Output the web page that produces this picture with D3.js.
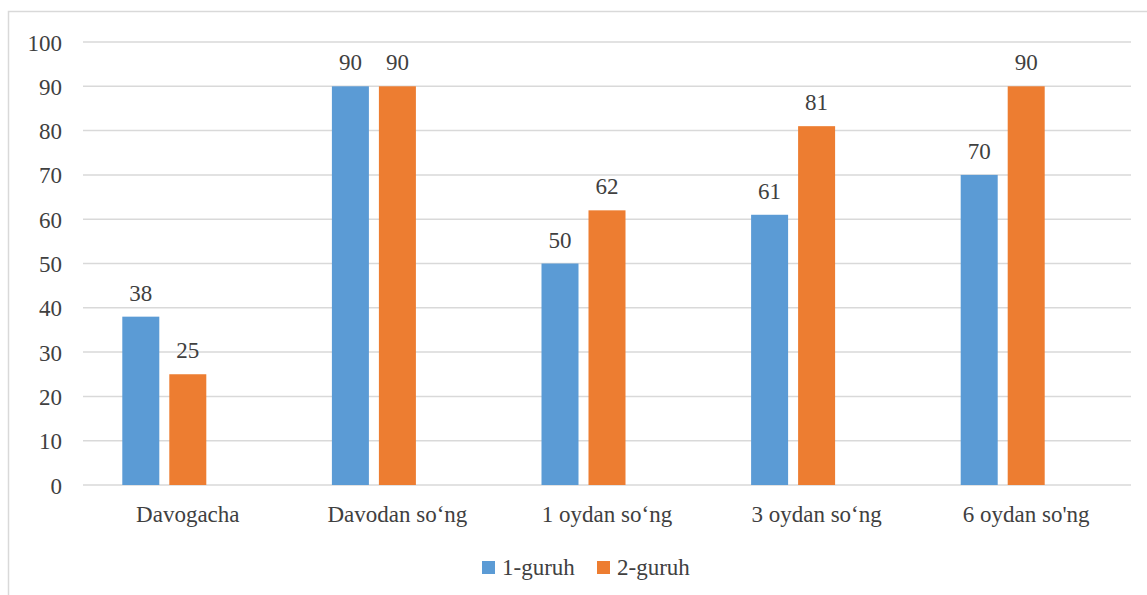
<!DOCTYPE html>
<html><head><meta charset="utf-8">
<script src="https://cdn.jsdelivr.net/npm/d3@7"></script>
</head>
<body style="margin:0">
<svg id="s" width="1147" height="595"></svg>
<script>
const categories = ["Davogacha", "Davodan so\u2018ng", "1 oydan so\u2018ng", "3 oydan so\u2018ng", "6 oydan so'ng"];
const series1 = [38, 90, 50, 61, 70];
const series2 = [25, 90, 62, 81, 90];
const seriesNames = ["1-guruh", "2-guruh"];
const yTicks = [0, 10, 20, 30, 40, 50, 60, 70, 80, 90, 100];
const colors = ["#5B9BD5", "#ED7D31"];

const svg = d3.select("#s");
const pL = 83, pR = 1131, pT = 42, pB = 485;
function styleText(sel) {
  sel.style("font-family", '"Liberation Serif", "Times New Roman", serif').style("font-size", "23px").attr("fill", "#404040");
}

svg.append("rect").attr("x", 8.5).attr("y", 11.5).attr("width", 1150).attr("height", 600)
  .attr("fill", "none").attr("stroke", "#d9d9d9").attr("stroke-width", 1.5);

const yScale = d3.scaleLinear().domain([0, 100]).range([pB, pT]);
const xScale = d3.scaleBand().domain(categories).range([pL, pR]).paddingInner(0).paddingOuter(0);
const slotW = 37, gap = 10;

svg.append("g").selectAll("line").data(yTicks).join("line")
  .attr("x1", pL).attr("x2", pR)
  .attr("y1", d => yScale(d)).attr("y2", d => yScale(d))
  .attr("stroke", "#d9d9d9").attr("stroke-width", 1.5);

const gy = svg.append("g").attr("transform", "translate(62,0)")
  .call(d3.axisLeft(yScale).tickValues(yTicks).tickSize(0).tickPadding(0));
gy.select(".domain").remove();
gy.attr("font-family", null).attr("font-size", null);
gy.selectAll("text").call(styleText);
gy.selectAll("text").attr("dy", "0.35em");

const gx = svg.append("g").attr("transform", `translate(0,${pB})`)
  .call(d3.axisBottom(xScale).tickSize(0).tickPadding(0));
gx.select(".domain").remove();
gx.attr("font-family", null).attr("font-size", null);
gx.selectAll("text").call(styleText);
gx.selectAll("text").attr("dy", 37);

[series1, series2].forEach((vals, si) => {
  const g = svg.append("g");
  const bx = (c) => xScale(c) + xScale.bandwidth() / 2 - (3 * slotW + 2 * gap) / 2 + si * (slotW + gap);
  g.selectAll("rect").data(vals).join("rect")
    .attr("x", (d, i) => bx(categories[i]))
    .attr("y", d => yScale(d))
    .attr("width", slotW)
    .attr("height", d => yScale(0) - yScale(d))
    .attr("fill", colors[si]);
  g.selectAll("text").data(vals).join("text")
    .attr("x", (d, i) => bx(categories[i]) + slotW / 2)
    .attr("y", d => yScale(d) - 16)
    .attr("text-anchor", "middle")
    .text(d => d)
    .call(styleText);
});

const legX = [482, 597];
seriesNames.forEach((n, i) => {
  svg.append("rect").attr("x", legX[i]).attr("y", 561).attr("width", 13).attr("height", 13).attr("fill", colors[i]);
  svg.append("text").attr("x", legX[i] + 20).attr("y", 575).text(n).call(styleText);
});
</script>
</body></html>
